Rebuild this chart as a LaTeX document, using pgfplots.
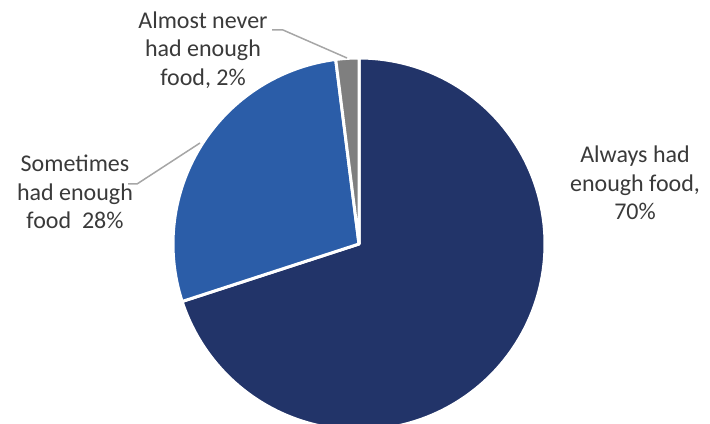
\documentclass[border=0pt]{standalone}
\usepackage{pgfplots}
\usepackage{pgfplotstable}
\usepackage{fontspec}
\setmainfont{Carlito}
\pgfplotsset{compat=1.18}
\definecolor{cNavy}{HTML}{223469}
\definecolor{cBlue}{HTML}{2B5DA8}
\definecolor{cGray}{HTML}{7F7F7F}
\definecolor{cText}{HTML}{3A3A3A}
\definecolor{cLine}{HTML}{A6A6A6}
\pgfplotstableread{
label value
Always 70
Sometimes 28
Almost 2
}\piedata
\pgfplotstablegetelem{0}{value}\of\piedata \let\va\pgfplotsretval
\pgfplotstablegetelem{1}{value}\of\piedata \let\vb\pgfplotsretval
\pgfplotstablegetelem{2}{value}\of\piedata \let\vc\pgfplotsretval
\pgfmathsetmacro\aS{90}
\pgfmathsetmacro\aA{\aS-3.6*\va}
\pgfmathsetmacro\aB{\aA-3.6*\vb}
\pgfmathsetmacro\aC{\aB-3.6*\vc}
\begin{document}
\begin{tikzpicture}
\begin{axis}[
  scale only axis, width=355pt, height=211.5pt,
  xmin=0, xmax=710, ymin=0, ymax=423,
  hide axis, clip=true,
]
\path (rel axis cs:0,0) rectangle (rel axis cs:1,1);
\addplot[draw=white, line width=1.5pt, fill=cNavy, domain=\aA:\aS, samples=160, line join=round]
  ({359+186*cos(x)}, {179+186*sin(x)}) -- (axis cs:359,179) -- cycle;
\addplot[draw=white, line width=1.5pt, fill=cBlue, domain=\aB:\aA, samples=80, line join=round]
  ({359+186*cos(x)}, {179+186*sin(x)}) -- (axis cs:359,179) -- cycle;
\addplot[draw=white, line width=1.5pt, fill=cGray, domain=\aC:\aB, samples=20, line join=round]
  ({359+186*cos(x)}, {179+186*sin(x)}) -- (axis cs:359,179) -- cycle;
\addplot[cLine, line width=0.75pt] coordinates {(272,393) (283,393) (347,365)};
\addplot[cLine, line width=0.75pt] coordinates {(128,239) (137,239) (200,280)};
\node[align=center, text=cText, font=\fontsize{12}{14.3}\selectfont] at (axis cs:203,373) {Almost never\\had enough\\food, 2\%};
\node[align=center, text=cText, font=\fontsize{12}{14.3}\selectfont] at (axis cs:75,231) {Sometimes\\had enough\\food~~28\%};
\node[align=center, text=cText, font=\fontsize{12}{14.3}\selectfont] at (axis cs:635,240) {Always had\\enough food,\\70\%};
\end{axis}
\end{tikzpicture}
\end{document}
